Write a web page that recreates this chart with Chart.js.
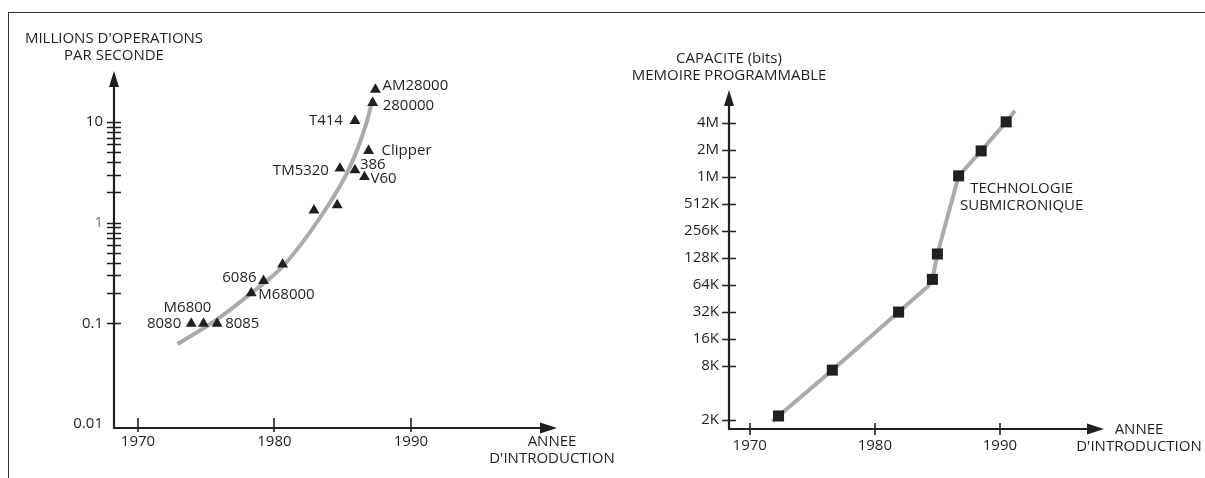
<!DOCTYPE html>
<html>
<head>
<meta charset="utf-8">
<script src="https://cdn.jsdelivr.net/npm/chart.js@4.4.0/dist/chart.umd.min.js"></script>
<style>
  html, body { margin: 0; padding: 0; background: #fff; }
  #page { position: relative; width: 1205px; height: 478px; overflow: hidden; }
  #frame { position: absolute; left: 8px; top: 12px; width: 1300px; height: 600px;
           border-top: 1.5px solid #333; border-left: 1.5px solid #333; }
  canvas { position: absolute; top: 0; left: 0; }
</style>
</head>
<body>
<div id="page">
  <div id="frame"></div>
  <canvas id="mips" width="1205" height="478"></canvas>
  <canvas id="mem" width="1205" height="478"></canvas>
</div>
<script>
// Processeurs : millions d'opérations par seconde
const cpuNames = ['8080', 'M6800', '8085', 'M68000', '6086', '', '', '', 'TM5320', '386', 'V60', 'Clipper', 'T414', '280000', 'AM28000'];
const cpuYears = [1973.9, 1974.8, 1975.8, 1978.3, 1979.2, 1980.6, 1982.9, 1984.6, 1984.8, 1985.9, 1986.6, 1986.9, 1985.9, 1987.2, 1987.4];
const cpuMips  = [0.1, 0.1, 0.1, 0.2, 0.265, 0.386, 1.33, 1.5, 3.46, 3.33, 2.85, 5.17, 10.3, 15.5, 21.0];
// tendance (courbe grise)
const trendYears = [1972.9, 1975.8, 1978.3, 1980.7, 1983.7, 1985.5, 1986.8, 1987.2];
const trendMips  = [0.0625, 0.11, 0.2, 0.38, 1.33, 3.5, 10.4, 17.1];
const mipsTicks = [0.01, 0.1, 1, 10];
const mipsTickLabels = ['0.01', '0.1', '1', '10'];

// Mémoire programmable : capacité en bits
const memYears = [1972.3, 1976.6, 1981.9, 1984.6, 1985.0, 1986.7, 1988.5, 1990.5];
const memBits  = [2250, 7300, 32400, 75000, 144000, 1070000, 2030000, 4280000];
const memLineYears = [1971.8, 1972.3, 1976.6, 1981.9, 1984.2, 1984.6, 1985.0, 1986.7, 1988.5, 1990.5, 1991.2];
const memLineBits  = [1950, 2250, 7300, 32400, 62000, 75000, 144000, 1070000, 2030000, 4280000, 5700000];
const memNotes = ['', '', '', '', '', 'TECHNOLOGIE\nSUBMICRONIQUE', '', ''];
const memTicks = [2048, 8192, 16384, 32768, 65536, 131072, 262144, 524288, 1048576, 2097152, 4194304];
const memTickLabels = ['2K', '8K', '16K', '32K', '64K', '128K', '256K', '512K', '1M', '2M', '4M'];

const yearTicks = [1970, 1980, 1990];
const yearTickLabels = ['1970', '1980', '1990'];

const ink = '#231f20';
const grey = '#a9abae';
const font = '15px "Open Sans"';

// position des étiquettes : [dx, dy, alignement]
const cpuLabelPos = [
  [-10, 0, 'right'], [-16, -16, 'center'], [8, 0, 'left'], [7, 2, 'left'], [-7, -3, 'right'],
  null, null, null,
  [-11, 2, 'right'], [5, -5, 'left'], [6, 2, 'left'], [13, 0, 'left'], [-12, 0, 'right'],
  [10, 3, 'left'], [7, -4, 'left']
];
const memNotePos = [null, null, null, null, null, [63, 13, 'center'], null, null];

// ticks secondaires de l'échelle log (0.2 .. 9)
const mipsMinor = [];
[0.1, 1].forEach(d => { for (let k = 2; k <= 9; k++) mipsMinor.push(d * k); });

function pts(xs, ys) {
  return xs.map((x, i) => ({ x: x, y: ys[i] }));
}

// axes fléchés, graduations et textes
const axesPlugin = {
  id: 'axes',
  beforeDatasetsDraw(chart, args, o) {
    const { ctx, chartArea: a, scales: { x, y } } = chart;
    ctx.save();
    ctx.strokeStyle = ink;
    ctx.fillStyle = ink;
    ctx.lineWidth = 2.2;
    ctx.beginPath();
    ctx.moveTo(a.left, a.top + 12);
    ctx.lineTo(a.left, a.bottom);
    ctx.lineTo(a.right - 12, a.bottom);
    ctx.stroke();
    // flèches
    ctx.beginPath();
    ctx.moveTo(a.left, a.top);
    ctx.lineTo(a.left - 5, a.top + 16);
    ctx.lineTo(a.left + 5, a.top + 16);
    ctx.closePath();
    ctx.fill();
    ctx.beginPath();
    ctx.moveTo(a.right, a.bottom);
    ctx.lineTo(a.right - 17, a.bottom - 5.5);
    ctx.lineTo(a.right - 17, a.bottom + 5.5);
    ctx.closePath();
    ctx.fill();

    // graduations
    ctx.lineWidth = 1.6;
    ctx.beginPath();
    o.yMarks.forEach(v => {
      const py = Math.round(y.getPixelForValue(v)) + 0.5;
      ctx.moveTo(a.left - 7, py);
      ctx.lineTo(a.left + 7, py);
    });
    yearTicks.forEach(v => {
      const px = Math.round(x.getPixelForValue(v));
      ctx.moveTo(px, a.bottom - o.xUp);
      ctx.lineTo(px, a.bottom + o.xDown);
    });
    ctx.stroke();

    ctx.font = font;
    ctx.textBaseline = 'middle';
    ctx.textAlign = 'right';
    o.yTicks.forEach((v, i) => {
      ctx.fillStyle = (o.yLabels[i] === '1') ? '#7a7a7a' : ink;
      ctx.fillText(o.yLabels[i], a.left - o.yGap, y.getPixelForValue(v));
    });
    ctx.fillStyle = ink;
    ctx.textAlign = 'center';
    yearTicks.forEach((v, i) => {
      ctx.fillText(yearTickLabels[i], x.getPixelForValue(v), a.bottom + o.xGap);
    });
    // titres
    o.yTitle.forEach((t, i) => ctx.fillText(t, a.left, o.yTitleY + i * 16.5));
    o.xTitle.forEach((t, i) => ctx.fillText(t, a.right + o.xTitleDx, a.bottom + o.xTitleDy + i * 17));
    ctx.restore();
  },
  afterDatasetsDraw(chart, args, o) {
    const { ctx } = chart;
    const meta = chart.getDatasetMeta(0);
    ctx.save();
    ctx.font = font;
    ctx.fillStyle = ink;
    ctx.textBaseline = 'middle';
    o.pointLabels.forEach((lab, i) => {
      const pos = o.pointLabelPos[i];
      if (!lab || !pos) return;
      const p = meta.data[i];
      ctx.textAlign = pos[2];
      lab.split('\n').forEach((line, k) => {
        ctx.fillText(line, p.x + pos[0], p.y + pos[1] + k * 17);
      });
    });
    ctx.restore();
  }
};

function makeChart(id, cfg) {
  return new Chart(document.getElementById(id), {
    type: 'scatter',
    data: {
      datasets: [
        {
          data: cfg.points,
          pointStyle: cfg.pointStyle,
          pointRadius: cfg.pointRadius,
          pointBackgroundColor: ink,
          pointBorderWidth: 0,
          clip: false
        },
        {
          data: cfg.line,
          showLine: true,
          borderColor: grey,
          borderWidth: 4,
          pointRadius: 0,
          cubicInterpolationMode: cfg.smooth ? 'monotone' : 'default',
          tension: 0,
          borderCapStyle: 'butt',
          clip: false
        }
      ]
    },
    options: {
      responsive: false,
      devicePixelRatio: 1,
      animation: false,
      events: [],
      layout: { padding: cfg.padding },
      scales: {
        x: { type: 'linear', display: false, min: cfg.xMin, max: cfg.xMax },
        y: { type: 'logarithmic', display: false, min: cfg.yMin, max: cfg.yMax }
      },
      plugins: {
        legend: { display: false },
        tooltip: { enabled: false },
        axes: cfg.axes
      }
    },
    plugins: [axesPlugin]
  });
}

makeChart('mips', {
  points: pts(cpuYears, cpuMips),
  line: pts(trendYears, trendMips),
  pointStyle: 'triangle',
  pointRadius: 6.3,
  smooth: true,
  padding: { left: 114, right: 648, top: 71, bottom: 50 },
  xMin: 1968.24, xMax: 2000.71,
  yMin: 0.00917, yMax: 32.1,
  axes: {
    yMarks: mipsTicks.slice(1).concat(mipsMinor),
    yTicks: mipsTicks,
    yLabels: mipsTickLabels,
    yGap: 11,
    xUp: 10, xDown: 4, xGap: 14,
    yTitle: ["MILLIONS D'OPERATIONS", 'PAR SECONDE'],
    yTitleY: 39,
    xTitle: ['ANNEE', "D'INTRODUCTION"],
    xTitleDx: -5, xTitleDy: 14,
    pointLabels: cpuNames,
    pointLabelPos: cpuLabelPos
  }
});

makeChart('mem', {
  points: pts(memYears, memBits),
  line: pts(memLineYears, memLineBits),
  pointStyle: 'rect',
  pointRadius: 7.8,
  smooth: false,
  padding: { left: 729, right: 101, top: 90, bottom: 49 },
  xMin: 1968.34, xMax: 1998.32,
  yMin: 1610, yMax: 9700000,
  axes: {
    yMarks: memTicks,
    yTicks: memTicks,
    yLabels: memTickLabels,
    yGap: 10,
    xUp: 6, xDown: 6, xGap: 17,
    yTitle: ['CAPACITE (bits)', 'MEMOIRE PROGRAMMABLE'],
    yTitleY: 59,
    xTitle: ['ANNEE', "D'INTRODUCTION"],
    xTitleDx: 35, xTitleDy: 1,
    pointLabels: memNotes,
    pointLabelPos: memNotePos
  }
});
</script>
</body>
</html>
